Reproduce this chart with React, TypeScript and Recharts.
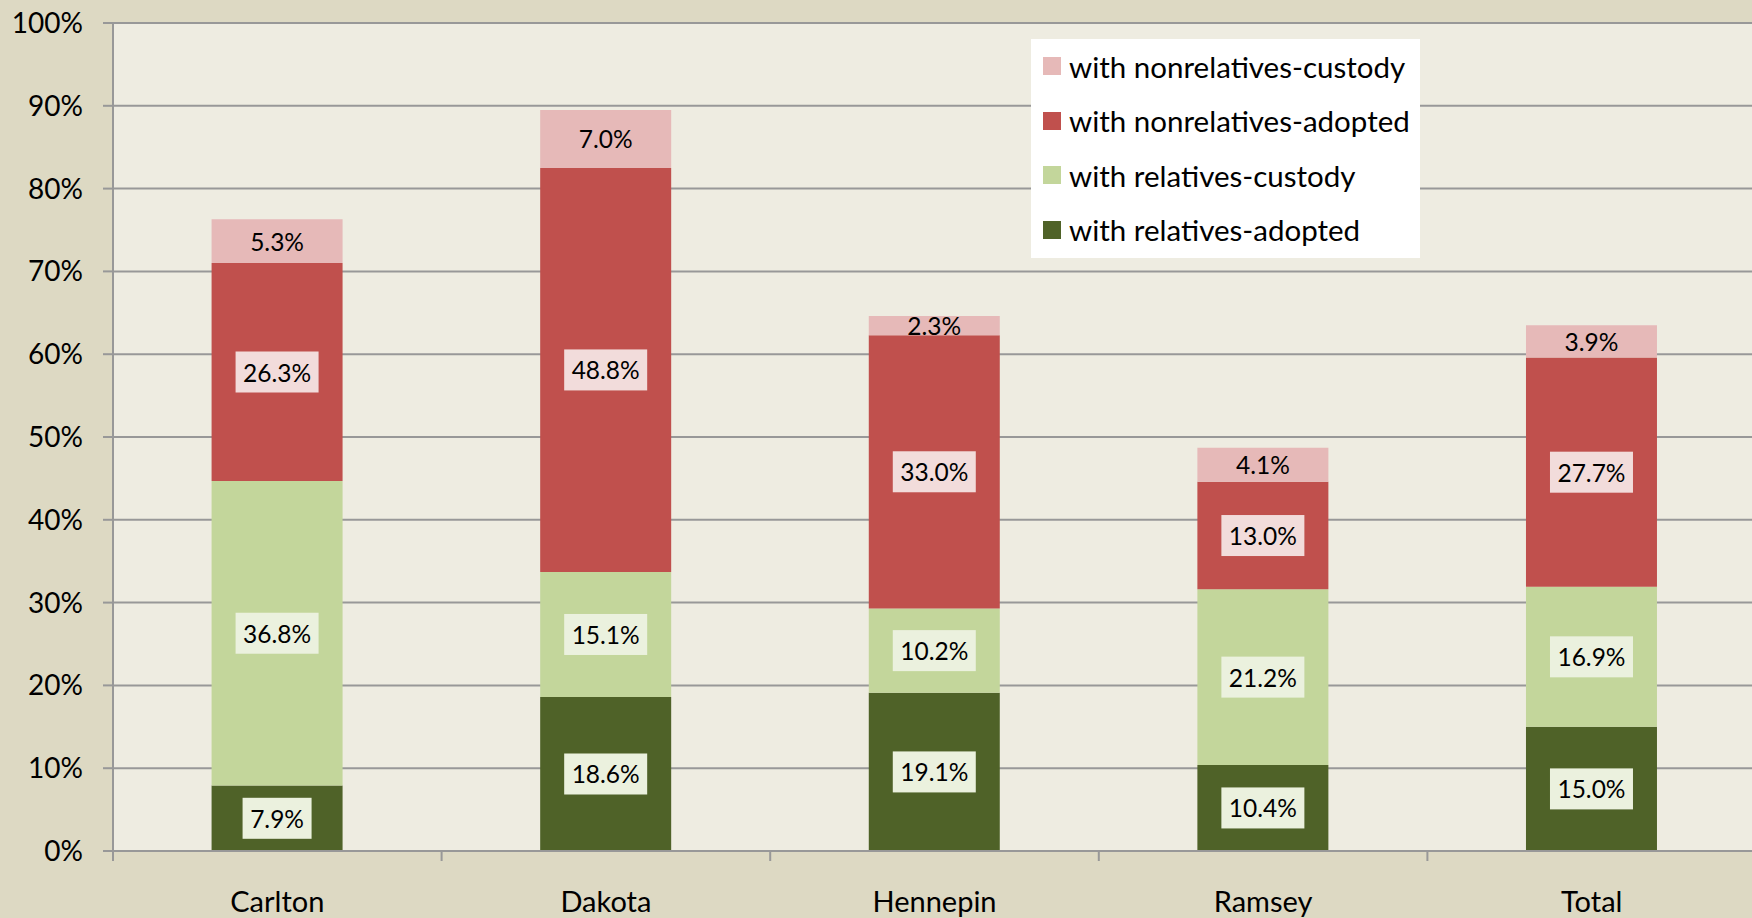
import React from "react";
import { BarChart, Bar, XAxis, YAxis, CartesianGrid, Legend, LabelList } from "recharts";

const categories = ["Carlton", "Dakota", "Hennepin", "Ramsey", "Total"];
const relativesAdopted = [7.9, 18.6, 19.1, 10.4, 15.0];
const relativesCustody = [36.8, 15.1, 10.2, 21.2, 16.9];
const nonrelativesAdopted = [26.3, 48.8, 33.0, 13.0, 27.7];
const nonrelativesCustody = [5.3, 7.0, 2.3, 4.1, 3.9];
const yTicks = [0, 10, 20, 30, 40, 50, 60, 70, 80, 90, 100];

const seriesDefs = [
  { key: "ra", name: "with relatives-adopted", color: "#4F6228", box: "#EBF1DE" },
  { key: "rc", name: "with relatives-custody", color: "#C3D69B", box: "#EBF1DE" },
  { key: "na", name: "with nonrelatives-adopted", color: "#C0504D", box: "#F2DCDB" },
  { key: "nc", name: "with nonrelatives-custody", color: "#E6B9B8", box: null as string | null },
];

const data = categories.map((name, i) => ({
  name,
  ra: relativesAdopted[i],
  rc: relativesCustody[i],
  na: nonrelativesAdopted[i],
  nc: nonrelativesCustody[i],
}));

const FONT = "Lato, 'Open Sans', sans-serif";
const GRID = "#989898";

const makeLabel = (box: string | null) => (props: any) => {
  const { x, y, width, height, value } = props;
  const cx = Number(x) + Number(width) / 2;
  const cy = Number(y) + Number(height) / 2;
  const txt = Number(value).toFixed(1) + "%";
  const bw = 14 * txt.length + 13;
  const bh = 41;
  return (
    <g>
      {box && <rect x={cx - bw / 2} y={cy - bh / 2} width={bw} height={bh} fill={box} />}
      <text x={cx} y={cy} textAnchor="middle" dominantBaseline="central" fontFamily={FONT} fontSize={24.5} fill="#000">
        {txt}
      </text>
    </g>
  );
};

const XTick = (props: any) => {
  const { x, y, payload, width, visibleTicksCount } = props;
  const band = Number(width) / Number(visibleTicksCount || categories.length);
  const left = x - band / 2;
  return (
    <g>
      <line x1={left} y1={y} x2={left} y2={y + 10} stroke={GRID} strokeWidth={2} />
      <text x={x} y={y + 61} textAnchor="middle" fontFamily={FONT} fontSize={29} fill="#000">
        {payload.value}
      </text>
    </g>
  );
};

const LegendContent = () => {
  const items = [...seriesDefs].reverse();
  return (
    <div style={{ background: "#FFFFFF", width: 389, height: 219, boxSizing: "border-box", paddingTop: 0, paddingLeft: 12 }}>
      {items.map((s) => (
        <div key={s.key} style={{ display: "flex", alignItems: "center", height: 54.5 }}>
          <div style={{ width: 18, height: 18, background: s.color, marginRight: 8, flexShrink: 0 }} />
          <span style={{ fontFamily: FONT, fontSize: 29.5, color: "#000", whiteSpace: "nowrap" }}>{s.name}</span>
        </div>
      ))}
    </div>
  );
};

export default function App() {
  return (
    <div style={{ position: "fixed", left: 0, top: 0, width: 1752, height: 918, overflow: "hidden", background: "#DDD9C3" }}>
      <BarChart
        width={1760}
        height={918}
        data={data}
        margin={{ top: 23, right: 4, bottom: 37, left: 0 }}
        barCategoryGap="30%"
      >
        <CartesianGrid vertical={false} fill="#EEECE1" stroke={GRID} strokeWidth={2} />
        <YAxis
          width={113}
          domain={[0, 100]}
          ticks={yTicks}
          interval={0}
          tickFormatter={(v: number) => `${v}%`}
          tick={{ fontFamily: FONT, fontSize: 28, fill: "#000" }}
          axisLine={{ stroke: GRID, strokeWidth: 2 }}
          tickLine={{ stroke: GRID, strokeWidth: 2 }}
          tickSize={10}
          tickMargin={20}
        />
        <XAxis
          dataKey="name"
          height={30}
          interval={0}
          tickLine={false}
          tickSize={0}
          tickMargin={0}
          axisLine={{ stroke: GRID, strokeWidth: 2 }}
          tick={<XTick />}
        />
        <Legend
          layout="vertical"
          align="center"
          verticalAlign="middle"
          content={<LegendContent />}
          wrapperStyle={{ position: "absolute", left: 1031, top: 39, width: 389, height: 219 }}
        />
        {seriesDefs.map((s) => (
          <Bar key={s.key} dataKey={s.key} name={s.name} stackId="a" fill={s.color} isAnimationActive={false}>
            <LabelList dataKey={s.key} content={makeLabel(s.box)} />
          </Bar>
        ))}
      </BarChart>
    </div>
  );
}
